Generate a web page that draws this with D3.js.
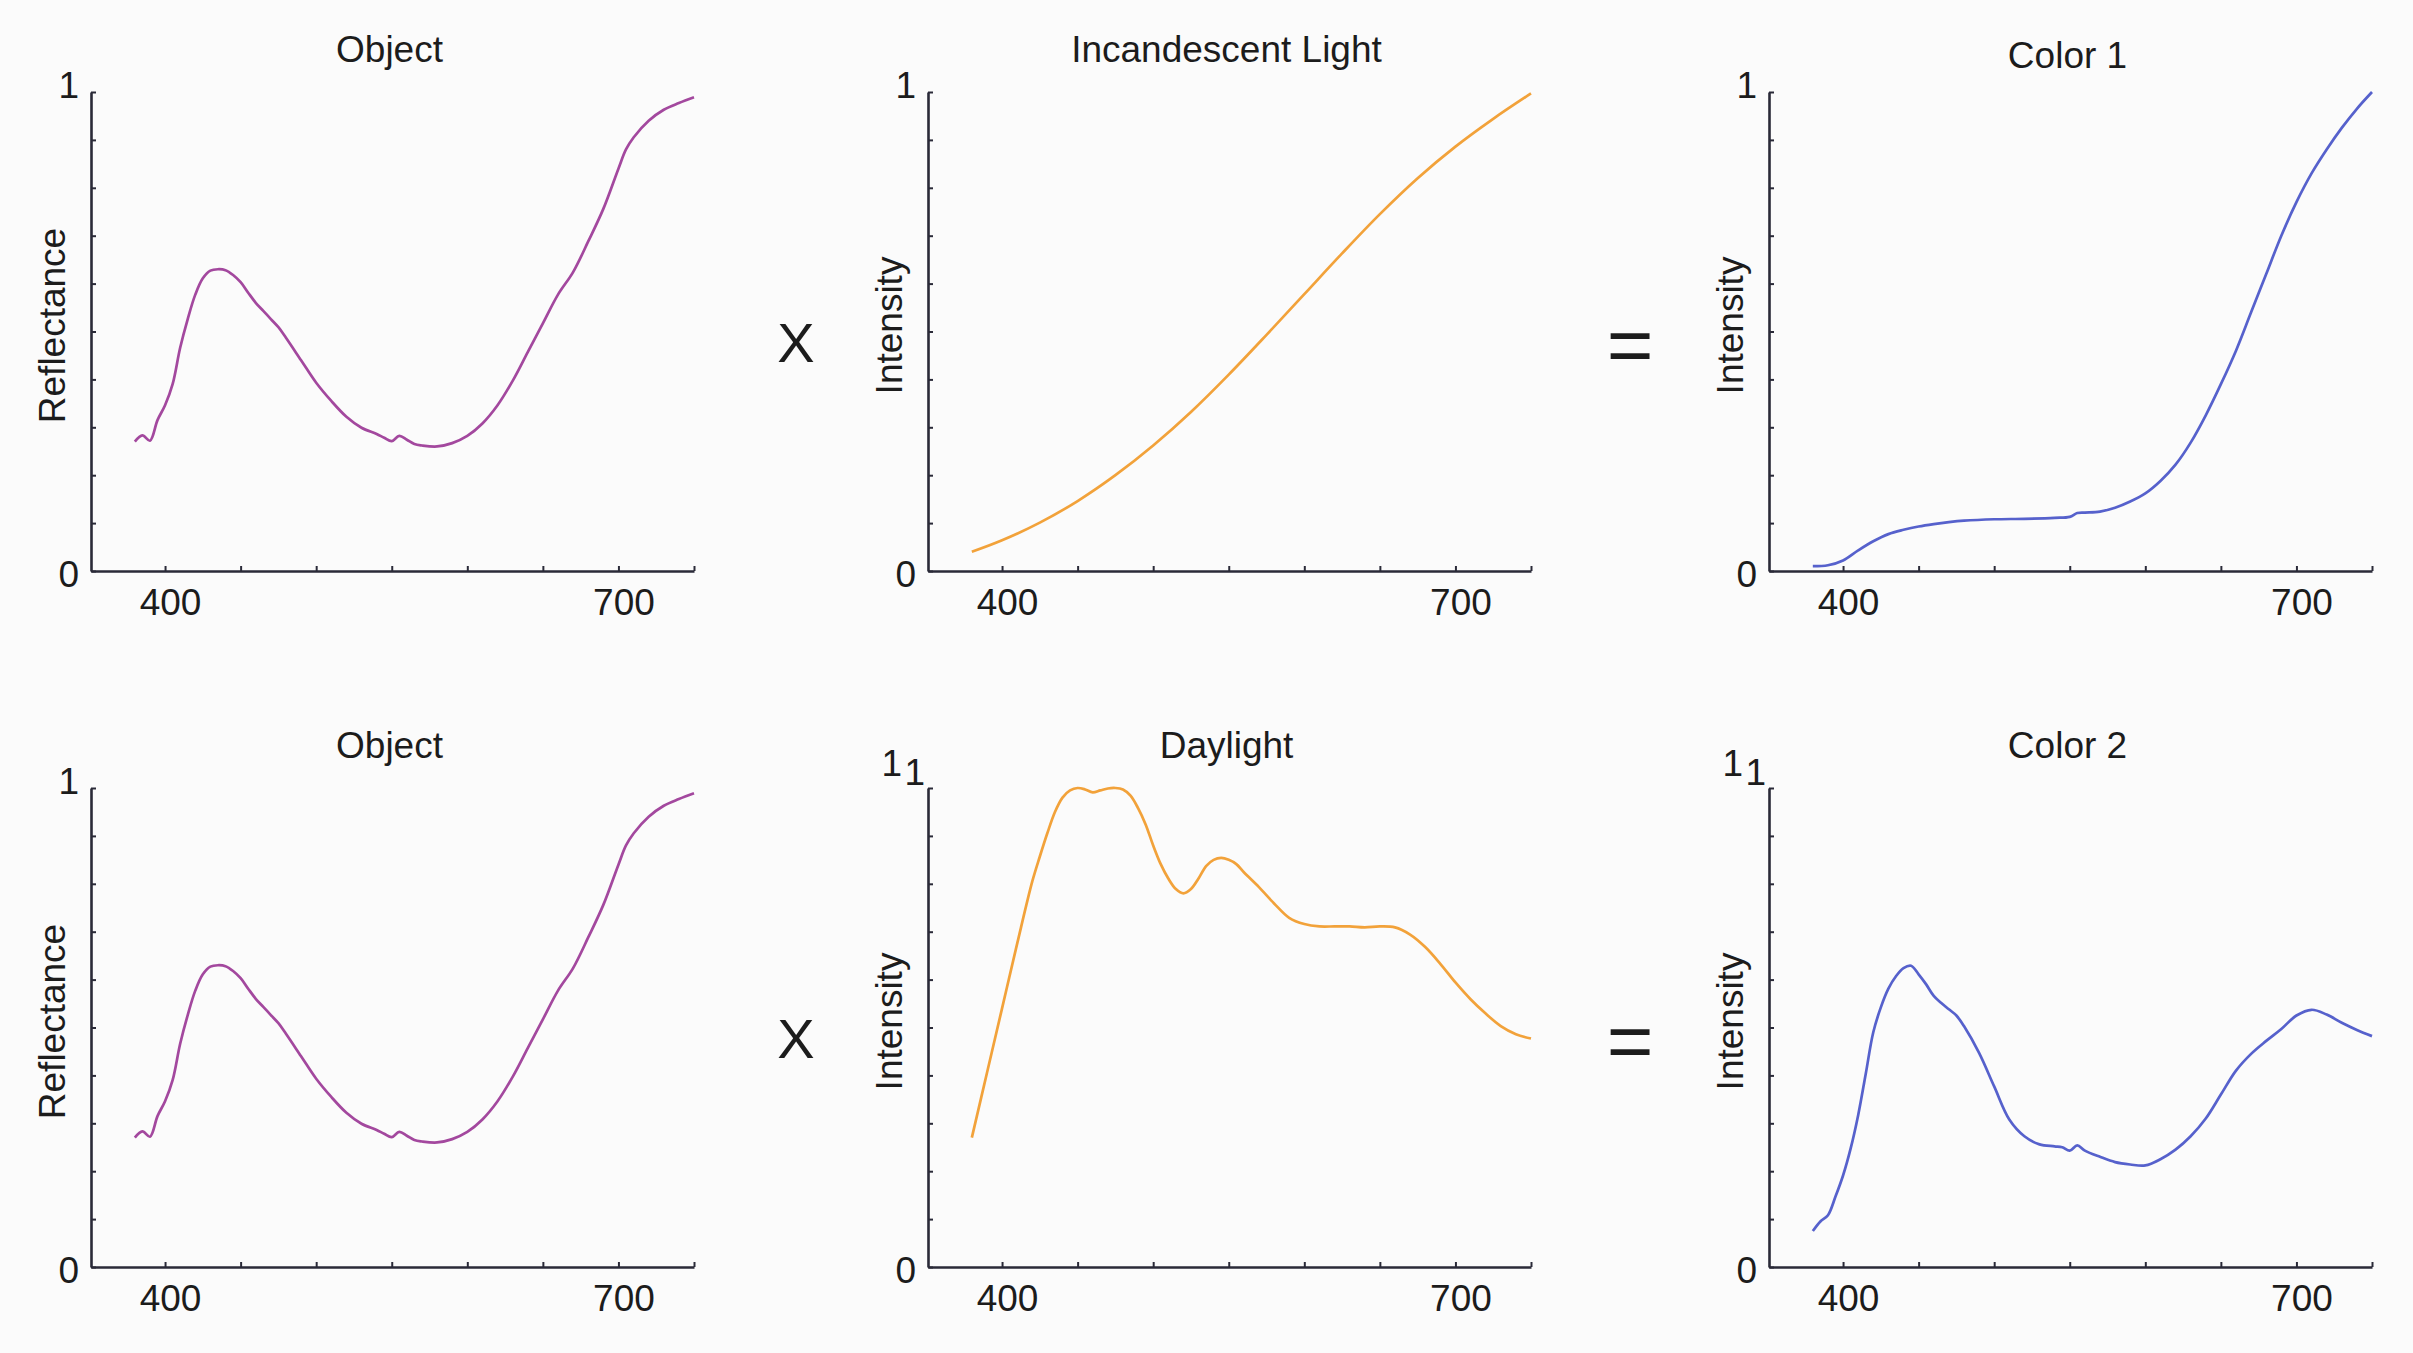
<!DOCTYPE html>
<html>
<head>
<meta charset="utf-8">
<script src="https://cdn.jsdelivr.net/npm/d3@7"></script>
<style>
  html, body { margin: 0; padding: 0; background: #fbfbfb; }
  svg text { font-family: "Liberation Sans", Arial, sans-serif; fill: #1c1c1c; }
</style>
</head>
<body>
<div id="chart"></div>
<script>

// Data (wavelength in nm, value 0..1)
var objectNm  = [380,385,390,395,400,405,410,415,420,425,430,435,440,445,450,455,460,465,470,475,480,490,500,510,520,530,540,545,550,555,560,565,570,580,590,600,610,620,630,640,650,660,670,680,690,700,705,710,720,730,740,750];
var objectVal = [0.27,0.283,0.272,0.315,0.346,0.39,0.466,0.526,0.577,0.611,0.627,0.63,0.628,0.618,0.603,0.581,0.56,0.543,0.526,0.509,0.487,0.44,0.393,0.355,0.322,0.299,0.286,0.278,0.271,0.282,0.274,0.265,0.262,0.26,0.267,0.282,0.308,0.346,0.397,0.457,0.517,0.577,0.624,0.688,0.756,0.84,0.88,0.905,0.94,0.963,0.977,0.989];

var incandNm  = [380,400,425,450,475,500,525,550,575,600,625,650,675,700,725,750];
var incandVal = [0.04,0.064,0.101,0.146,0.2,0.262,0.332,0.41,0.493,0.578,0.663,0.745,0.82,0.886,0.944,0.997];

var color1Nm  = [380,390,400,410,420,430,440,450,460,470,480,500,520,540,550,555,560,570,580,590,600,610,620,630,640,650,660,670,680,690,700,710,720,730,740,750];
var color1Val = [0.01,0.012,0.022,0.043,0.062,0.077,0.086,0.093,0.098,0.102,0.105,0.108,0.109,0.111,0.113,0.121,0.122,0.124,0.132,0.145,0.162,0.188,0.222,0.268,0.325,0.39,0.46,0.54,0.62,0.7,0.77,0.83,0.88,0.925,0.965,1.0];

var daylightNm  = [380,390,400,410,420,425,430,435,440,445,450,455,460,465,470,475,480,485,490,495,500,505,510,515,520,525,530,535,540,545,550,555,560,570,580,590,600,610,620,630,640,650,660,670,680,690,700,710,720,730,740,750];
var daylightVal = [0.27,0.405,0.54,0.675,0.805,0.857,0.906,0.95,0.98,0.995,1.0,0.997,0.991,0.995,0.999,1.0,0.997,0.984,0.958,0.924,0.88,0.841,0.811,0.789,0.78,0.789,0.811,0.837,0.85,0.854,0.85,0.841,0.824,0.793,0.759,0.729,0.716,0.711,0.711,0.711,0.709,0.711,0.709,0.694,0.668,0.633,0.594,0.559,0.529,0.503,0.486,0.477];

var color2Nm  = [380,385,390,395,400,405,410,415,420,425,430,435,440,445,450,455,460,465,470,475,480,490,500,510,520,530,540,545,550,555,560,570,580,590,600,610,620,630,640,650,660,670,680,690,700,710,720,730,740,750];
var color2Val = [0.075,0.095,0.108,0.147,0.191,0.247,0.317,0.403,0.49,0.542,0.581,0.607,0.624,0.629,0.611,0.59,0.566,0.551,0.538,0.525,0.503,0.447,0.377,0.308,0.273,0.256,0.252,0.25,0.243,0.254,0.243,0.23,0.219,0.214,0.212,0.225,0.245,0.273,0.31,0.36,0.41,0.445,0.472,0.497,0.525,0.537,0.527,0.51,0.495,0.482];

var xTicks = [400, 450, 500, 550, 600, 650, 700, 750];
var xTickLabels = [400, 700];
var yTicks = [0, 0.1, 0.2, 0.3, 0.4, 0.5, 0.6, 0.7, 0.8, 0.9, 1];
var yTickLabels = [0, 1];

var titles  = ["Object", "Incandescent Light", "Color 1", "Object", "Daylight", "Color 2"];
var yLabels = ["Reflectance", "Intensity", "Intensity", "Reflectance", "Intensity", "Intensity"];
var operators = ["X", "="];

// layout
var W = 2413, H = 1353;
var colLeft = [91, 928, 1769], plotW = 603;
var rowTop = [92, 788], plotH = 479;
var opX = [796, 1630];

var objColor = "#a3489e", lightColor = "#f2a23a", mixColor = "#5661cc";

var panels = [
    {nm: objectNm,   val: objectVal,   color: objColor,   col: 0, row: 0},
    {nm: incandNm,   val: incandVal,   color: lightColor, col: 1, row: 0},
    {nm: color1Nm,   val: color1Val,   color: mixColor,   col: 2, row: 0},
    {nm: objectNm,   val: objectVal,   color: objColor,   col: 0, row: 1},
    {nm: daylightNm, val: daylightVal, color: lightColor, col: 1, row: 1, doubleOne: true},
    {nm: color2Nm,   val: color2Val,   color: mixColor,   col: 2, row: 1, doubleOne: true}
];

var svg = d3.select("#chart").append("svg")
    .attr("width", W)
    .attr("height", H);

svg.append("rect")
    .attr("width", W)
    .attr("height", H)
    .attr("fill", "#fbfbfb");

var x = d3.scaleLinear().domain([351, 750]).range([0, plotW]);
var y = d3.scaleLinear().domain([0, 1]).range([plotH, 0]);

var line = d3.line()
    .x(function (d) { return x(d[0]); })
    .y(function (d) { return y(d[1]); })
    .curve(d3.curveCatmullRom.alpha(0.5));

panels.forEach(function (p, i) {
    var g = svg.append("g")
        .attr("transform", "translate(" + colLeft[p.col] + "," + rowTop[p.row] + ")");

    // x axis: ticks point inward
    var xAxis = d3.axisBottom(x)
        .tickValues(xTicks)
        .tickSize(-5)
        .tickSizeOuter(0)
        .tickPadding(18)
        .tickFormat(function (d) { return xTickLabels.indexOf(d) >= 0 ? d : ""; });

    var gx = g.append("g")
        .attr("transform", "translate(0," + plotH + ")")
        .call(xAxis);

    gx.selectAll(".tick text").attr("dx", 5);

    var yAxis = d3.axisLeft(y)
        .tickValues(yTicks)
        .tickSize(-5)
        .tickSizeOuter(0)
        .tickPadding(12)
        .tickFormat(function (d) { return yTickLabels.indexOf(d) >= 0 ? d : ""; });

    var gy = g.append("g").call(yAxis);

    [gx, gy].forEach(function (a) {
        a.select(".domain").attr("stroke", "#2a2a38").attr("stroke-width", 2.6);
        a.selectAll(".tick line").attr("stroke", "#2a2a38").attr("stroke-width", 2);
        a.selectAll(".tick text").attr("font-size", 37).attr("fill", "#1c1c1c");
    });

    gy.selectAll(".tick text")
        .filter(function (d) { return d === 0; })
        .attr("dy", "0.41em");

    var one = gy.selectAll(".tick text")
        .filter(function (d) { return d === 1; });
    if (p.doubleOne) {
        one.attr("x", -3).attr("dy", "-0.1em");
        g.append("text")
            .attr("x", -26)
            .attr("y", -12)
            .attr("text-anchor", "end")
            .attr("font-size", 37)
            .text("1");
    } else {
        one.attr("dy", "0.14em");
    }

    // title
    g.append("text")
        .attr("x", plotW / 2 - 3)
        .attr("y", p.col === 2 && p.row === 0 ? -24 : -30)
        .attr("text-anchor", "middle")
        .attr("font-size", 37)
        .text(titles[i]);

    // y label
    g.append("text")
        .attr("transform", "translate(-26," + (plotH / 2 - 6) + ") rotate(-90)")
        .attr("text-anchor", "middle")
        .attr("font-size", 37)
        .text(yLabels[i]);

    // curve
    g.append("path")
        .datum(d3.zip(p.nm, p.val))
        .attr("d", line)
        .attr("fill", "none")
        .attr("stroke", p.color)
        .attr("stroke-width", 2.7)
        .attr("stroke-linejoin", "round");
});

// operators between the panels
rowTop.forEach(function (top) {
    var mid = top + plotH / 2;
    svg.append("text")
        .attr("x", opX[0])
        .attr("y", mid + 30)
        .attr("text-anchor", "middle")
        .attr("font-size", 56)
        .text(operators[0]);
    svg.append("text")
        .attr("x", opX[1])
        .attr("y", mid + 40)
        .attr("text-anchor", "middle")
        .attr("font-size", 80)
        .text(operators[1]);
});

</script>
</body>
</html>
